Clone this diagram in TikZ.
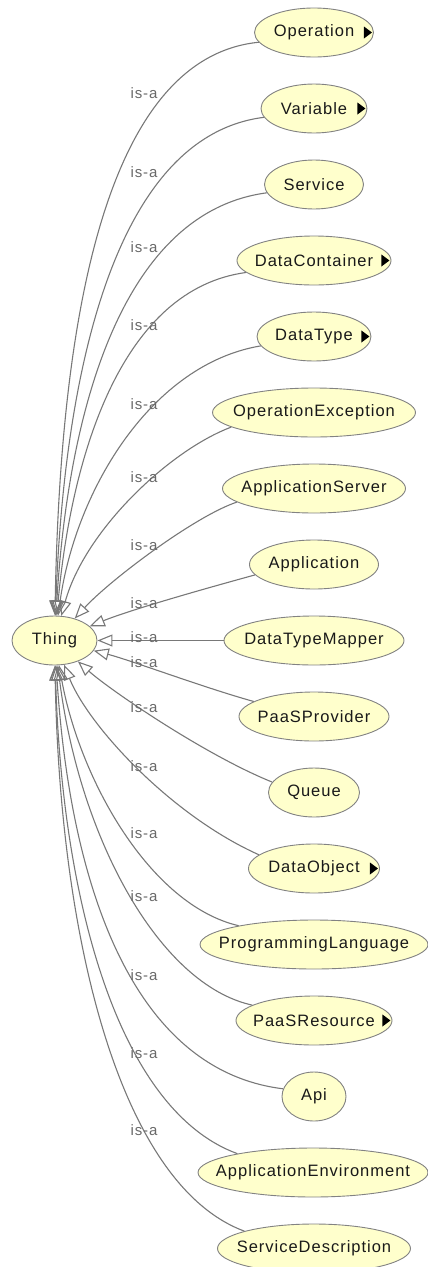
\documentclass[tikz,border=0pt]{standalone}
\usepackage{fontspec}
\setmainfont{Liberation Sans}
\newfontfamily\clsfont[LetterSpace=6]{Liberation Sans}
\usetikzlibrary{shapes.geometric,arrows.meta}
\definecolor{clsfill}{RGB}{255,255,204}
\definecolor{clsline}{RGB}{130,130,130}
\definecolor{isaline}{RGB}{120,120,120}
\definecolor{isatext}{RGB}{105,105,105}
\tikzset{
  cls/.style={ellipse, draw=clsline, fill=clsfill, line width=0.9pt, minimum height=49pt,
    inner sep=0pt, text=black!90, font=\clsfont\fontsize{16.5}{20}\selectfont},
  isa/.style={draw=isaline, line width=1.1pt, -{Triangle[open, length=15pt, width=12pt]}},
  isalbl/.style={text=isatext, inner sep=0pt, font=\clsfont\fontsize{15}{18}\selectfont}
}
\newcommand\clsmore[1]{\fill[black] ([xshift=-10pt]#1.east) -- ++(0,6) -- ++(8,-6) -- ++(-8,-6) -- cycle;}
\begin{document}
\begin{tikzpicture}[x=1pt,y=-1pt]
  \useasboundingbox (0,0) rectangle (428,1267);
  \node[cls, minimum width=85pt] (thing) at (54.5,640.5) {\makebox[0pt]{Thing}};
  \node[cls, minimum width=119pt] (op) at (314,32.5) {\makebox[0pt]{Operation}};
  \node[cls, minimum width=106pt] (var) at (314,108.5) {\makebox[0pt]{Variable}};
  \node[cls, minimum width=99pt] (serv) at (314,184.5) {\makebox[0pt]{Service}};
  \node[cls, minimum width=154pt] (dc) at (314,260.5) {\makebox[0pt]{DataContainer}};
  \node[cls, minimum width=114pt] (dt) at (314,336.5) {\makebox[0pt]{DataType}};
  \node[cls, minimum width=203pt] (oe) at (314,412.5) {\makebox[0pt]{OperationException}};
  \node[cls, minimum width=183pt] (as) at (314,488.5) {\makebox[0pt]{ApplicationServer}};
  \node[cls, minimum width=129pt] (app) at (314,564.5) {\makebox[0pt]{Application}};
  \node[cls, minimum width=180pt] (dtm) at (314,640.5) {\makebox[0pt]{DataTypeMapper}};
  \node[cls, minimum width=150pt] (pp) at (314,716.5) {\makebox[0pt]{PaaSProvider}};
  \node[cls, minimum width=91pt] (queue) at (314,792.5) {\makebox[0pt]{Queue}};
  \node[cls, minimum width=131pt] (dobj) at (314,868.5) {\makebox[0pt]{DataObject}};
  \node[cls, minimum width=228pt] (pl) at (314,944.5) {\makebox[0pt]{ProgrammingLanguage}};
  \node[cls, minimum width=156pt] (pr) at (314,1020.5) {\makebox[0pt]{PaaSResource}};
  \node[cls, minimum width=64pt] (api) at (314,1096.5) {\makebox[0pt]{Api}};
  \node[cls, minimum width=230pt] (ae) at (313,1172.5) {\makebox[0pt]{ApplicationEnvironment}};
  \node[cls, minimum width=193pt] (sd) at (314,1248.5) {\makebox[0pt]{ServiceDescription}};
  % expand markers
  \clsmore{op} \clsmore{var} \clsmore{dc} \clsmore{dt} \clsmore{dobj} \clsmore{pr}
  % is-a edges above Thing
  \draw[isa] (op.190) .. controls (100,58) and (60,337) .. (thing);
  \draw[isa] (var.190) .. controls (114,136) and (64,375) .. (thing);
  \draw[isa] (serv.190) .. controls (121,212) and (68,413) .. (thing);
  \draw[isa] (dc.190) .. controls (123,289) and (72,451) .. (thing);
  \draw[isa] (dt.190) .. controls (152,364) and (76,489) .. (thing);
  \draw[isa] (oe.190) .. controls (170,450) and (85,530) .. (thing);
  \draw[isa] (as.190) .. controls (195,516) and (110,580) .. (thing);
  \draw[isa] (app.190) .. controls (200,590) and (130,610) .. (thing);
  \draw[isa] (dtm) -- (thing);
  % is-a edges below Thing
  \draw[isa] (pp.166) .. controls (205,688) and (130,660) .. (thing);
  \draw[isa] (queue.166) .. controls (205,755) and (110,690) .. (thing);
  \draw[isa] (dobj.166) .. controls (170,815) and (88,725) .. (thing);
  \draw[isa] (pl.166) .. controls (150,905) and (80,780) .. (thing);
  \draw[isa] (pr.166) .. controls (160,985) and (80,840) .. (thing);
  \draw[isa] (api.166) .. controls (130,1070) and (70,880) .. (thing);
  \draw[isa] (ae.166) .. controls (118,1110) and (62,900) .. (thing);
  \draw[isa] (sd.166) .. controls (120,1185) and (60,940) .. (thing);
  % labels
  \node[isalbl] (isaop) at (144,93) {is-a};
  \node[isalbl] (isavar) at (144,172) {is-a};
  \node[isalbl] (isaserv) at (144,247) {is-a};
  \node[isalbl] (isadc) at (144,325) {is-a};
  \node[isalbl] (isadt) at (144,404) {is-a};
  \node[isalbl] (isaoe) at (144,477) {is-a};
  \node[isalbl] (isaas) at (144,545) {is-a};
  \node[isalbl] (isaapp) at (144,603) {is-a};
  \node[isalbl] (isadtm) at (144,637) {is-a};
  \node[isalbl] (isapp) at (144,662) {is-a};
  \node[isalbl] (isaqueue) at (144,707) {is-a};
  \node[isalbl] (isadobj) at (144,766) {is-a};
  \node[isalbl] (isapl) at (144,833) {is-a};
  \node[isalbl] (isapr) at (144,896) {is-a};
  \node[isalbl] (isaapi) at (144,975) {is-a};
  \node[isalbl] (isaae) at (144,1053) {is-a};
  \node[isalbl] (isasd) at (144,1130) {is-a};
\end{tikzpicture}
\end{document}
